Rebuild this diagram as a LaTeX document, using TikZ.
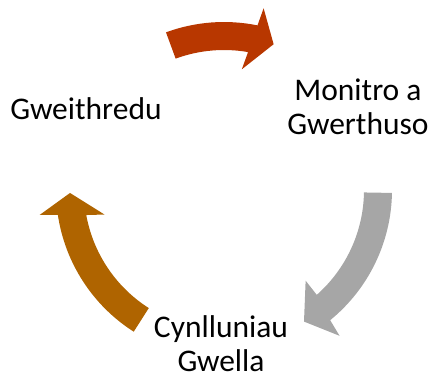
\documentclass[tikz,border=0pt]{standalone}
\usepackage{fontspec}
\setmainfont{Carlito}
\definecolor{arrowRed}{RGB}{184,55,0}
\definecolor{arrowGrey}{RGB}{166,166,166}
\definecolor{arrowBrown}{RGB}{175,100,0}
\tikzset{
  label text/.style={font=\fontsize{31.5}{34}\selectfont, inner sep=0pt, align=center, text=black},
}
% #1 tail angle, #2 outer join, #3 inner join, #4 barb outer, #5 barb inner, #6 tip
\newcommand{\cyclearrow}[7]{%
  \fill[#7] (#1:168) arc[start angle=#1, end angle=#2, radius=168]
    -- (#4:186) -- (#6:154) -- (#5:122) -- (#3:140)
    arc[start angle=#3, end angle=#1, radius=140] -- cycle;}
\begin{document}
\begin{tikzpicture}[x=1pt,y=-1pt]
\useasboundingbox (0,0) rectangle (432,376);
\begin{scope}[shift={(224,190)}]
  \cyclearrow{-110.2}{-78.5}{-80.1}{-77.7}{-81.6}{-71.2}{arrowRed}
  \cyclearrow{1.0}{50.8}{48.5}{51.6}{48.0}{58.7}{arrowGrey}
  \cyclearrow{122.5}{171.5}{169.7}{172.3}{168.4}{178.9}{arrowBrown}
\end{scope}
\node[label text, anchor=base] (act) at (86,119) {Gweithredu};
\node[label text, anchor=base] (mon) at (358,134) {Monitro a\\Gwerthuso};
\node[label text, anchor=base] (plan) at (221,371) {Cynlluniau\\Gwella};
\end{tikzpicture}
\end{document}
